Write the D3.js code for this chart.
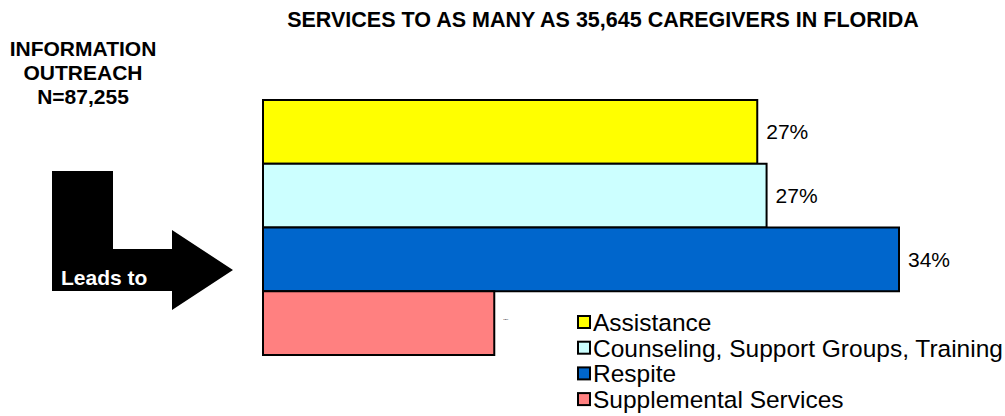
<!DOCTYPE html>
<html>
<head>
<meta charset="utf-8">
<script src="https://cdn.jsdelivr.net/npm/d3@7"></script>
<style>
  html, body { margin: 0; padding: 0; background: #fff; }
  svg { display: block; font-family: "Liberation Sans", Arial, sans-serif; }
</style>
</head>
<body>
<svg id="chart" width="1005" height="416"></svg>
<script>
// Caregiver services breakdown (percent of caregivers served)
const categories = ["Assistance", "Counseling, Support Groups, Training", "Respite", "Supplemental Services"];
const values = [26.5, 27.0, 34.1, 12.4];
const colors = ["#FFFF00", "#CCFFFF", "#0066CC", "#FF8080"];
const title = "SERVICES TO AS MANY AS 35,645 CAREGIVERS IN FLORIDA";
const sideLines = ["INFORMATION", "OUTREACH", "N=87,255"];
const arrowLabel = "Leads to";

const svg = d3.select("#chart");

const x = d3.scaleLinear().domain([0, d3.max(values)]).range([263, 899]);
const y = d3.scaleBand().domain(categories).range([100, 355]).padding(0);
const color = d3.scaleOrdinal().domain(categories).range(colors);
const fmt = d3.format(".0f");

// Title
svg.append("text")
  .attr("x", 603).attr("y", 27)
  .attr("text-anchor", "middle")
  .attr("font-weight", "bold")
  .attr("font-size", 21.5)
  .text(title);

// Left-hand block of text
svg.append("g").selectAll("text")
  .data(sideLines)
  .join("text")
  .attr("x", 83)
  .attr("y", (d, i) => 56 + i * 24)
  .attr("text-anchor", "middle")
  .attr("font-weight", "bold")
  .attr("font-size", 21)
  .text(d => d);

// Bent arrow pointing into the bars
const arrow = d3.path();
arrow.moveTo(52, 171);
arrow.lineTo(113, 171);
arrow.lineTo(113, 249);
arrow.lineTo(172, 249);
arrow.lineTo(172, 230);
arrow.lineTo(233, 270);
arrow.lineTo(172, 310);
arrow.lineTo(172, 291);
arrow.lineTo(52, 291);
arrow.closePath();
svg.append("path").attr("d", arrow.toString()).attr("fill", "#000");
svg.append("text")
  .attr("x", 61).attr("y", 285)
  .attr("fill", "#fff")
  .attr("font-weight", "bold")
  .attr("font-size", 21)
  .text(arrowLabel);

// Bars
svg.append("g").selectAll("rect")
  .data(categories)
  .join("rect")
  .attr("x", x(0))
  .attr("y", d => y(d))
  .attr("width", (d, i) => x(values[i]) - x(0))
  .attr("height", y.bandwidth())
  .attr("fill", d => color(d))
  .attr("stroke", "#000")
  .attr("stroke-width", 2);

// Value labels (the last one is printed in a tiny size)
svg.append("g").selectAll("text")
  .data(categories)
  .join("text")
  .attr("x", (d, i) => x(values[i]) + 9)
  .attr("y", (d, i) => y(d) + y.bandwidth() / 2 - (i === 3 ? 4 : 0))
  .attr("dy", "0.35em")
  .attr("font-size", (d, i) => i === 3 ? 2.5 : 21)
  .text((d, i) => fmt(values[i]) + "%");

// Legend
const legend = svg.append("g").selectAll("g")
  .data(categories)
  .join("g")
  .attr("transform", (d, i) => `translate(578, ${322 + i * 25.7})`);
legend.append("rect")
  .attr("x", 0).attr("y", -6)
  .attr("width", 12).attr("height", 12)
  .attr("fill", d => color(d))
  .attr("stroke", "#000")
  .attr("stroke-width", 2);
legend.append("text")
  .attr("x", 15).attr("y", 0)
  .attr("dy", "0.36em")
  .attr("font-size", 24.5)
  .text(d => d);
</script>
</body>
</html>
